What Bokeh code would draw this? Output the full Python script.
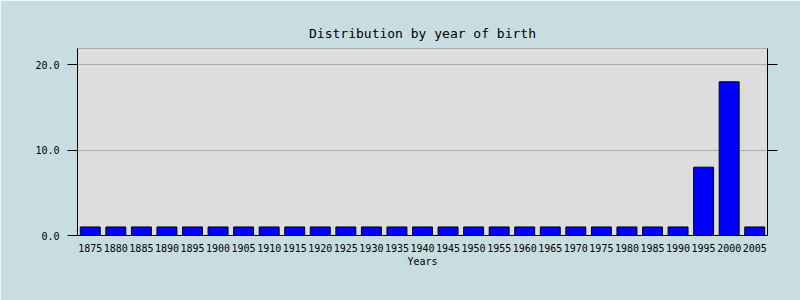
from bokeh.plotting import figure
from bokeh.models import ColumnDataSource, LinearAxis, FixedTicker, Range1d, Title, PrintfTickFormatter
from bokeh.embed import file_html
from bokeh.resources import INLINE

years = ["1875", "1880", "1885", "1890", "1895", "1900", "1905", "1910", "1915",
         "1920", "1925", "1930", "1935", "1940", "1945", "1950", "1955", "1960",
         "1965", "1970", "1975", "1980", "1985", "1990", "1995", "2000", "2005"]
counts = [1, 1, 1, 1, 1, 1, 1, 1, 1,
          1, 1, 1, 1, 1, 1, 1, 1, 1,
          1, 1, 1, 1, 1, 1, 8, 18, 1]
y_ticks = [0, 10, 20]

FONT = "DejaVu Sans Mono"
BG = "#c8dde0"

p = figure(width=800, height=300, x_range=years, y_range=Range1d(0, 21.9),
           output_backend="svg", toolbar_location=None,
           min_border_left=77, min_border_right=33, min_border_top=48,
           min_border_bottom=65)
p.background_fill_color = "#dddddd"
p.border_fill_color = BG
p.outline_line_color = "#aaaaaa"
p.outline_line_width = 1

src = ColumnDataSource(dict(year=years, count=counts))
p.vbar(x="year", top="count", width=0.78, source=src,
       fill_color="#0000ff", line_color="#000000", line_width=1)

p.title = Title(text="Distribution by year of birth", align="center",
                text_font=FONT, text_font_size="13px", text_font_style="normal",
                text_color="#000000", offset=0)
p.title.standoff = 15

# grid
p.xgrid.grid_line_color = None
p.ygrid.ticker = FixedTicker(ticks=y_ticks)
p.ygrid.grid_line_color = "#aaaaaa"
p.ygrid.grid_line_width = 1

# left axis
ya = p.yaxis[0]
ya.ticker = FixedTicker(ticks=y_ticks)
ya.formatter = PrintfTickFormatter(format="%.1f")
ya.major_tick_out = 10
ya.major_tick_in = 0
ya.minor_tick_out = 0
ya.minor_tick_in = 0
ya.major_label_text_font = FONT
ya.major_label_text_font_size = "10px"
ya.major_label_text_color = "#000000"
ya.major_label_standoff = 8
ya.axis_line_color = "#000000"
ya.major_tick_line_color = "#000000"

# right axis
ra = LinearAxis(ticker=FixedTicker(ticks=[10, 20]))
ra.major_label_text_font_size = "0px"
ra.major_label_text_color = None
ra.major_tick_out = 10
ra.major_tick_in = 0
ra.minor_tick_out = 0
ra.minor_tick_in = 0
ra.axis_line_color = "#000000"
ra.major_tick_line_color = "#000000"
p.add_layout(ra, "right")

# bottom axis
xa = p.xaxis[0]
xa.axis_label = "Years"
xa.axis_label_text_font = FONT
xa.axis_label_text_font_size = "10px"
xa.axis_label_text_font_style = "normal"
xa.axis_label_text_color = "#000000"
xa.axis_label_standoff = 1
xa.major_label_text_font = FONT
xa.major_label_text_font_size = "10px"
xa.major_label_text_color = "#000000"
xa.major_label_standoff = 8
xa.major_tick_out = 0
xa.major_tick_in = 0
xa.minor_tick_out = 0
xa.axis_line_color = "#000000"

open("out.html", "w").write(file_html(p, INLINE))
